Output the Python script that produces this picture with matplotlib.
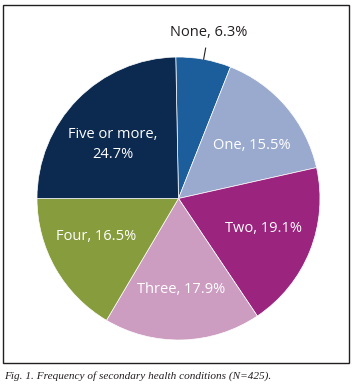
import matplotlib.pyplot as plt
import numpy as np

plt.rcParams['font.family'] = 'Open Sans'

categories = ['None', 'One', 'Two', 'Three', 'Four', 'Five or more']
percent = [6.3, 15.5, 19.1, 17.9, 16.5, 24.7]
colors = ['#1b5e9b', '#9aaacf', '#9a247e', '#cc9dc0', '#879c3d', '#0c2a4f']
caption = 'Fig. 1. Frequency of secondary health conditions (N=425).'

fig = plt.figure(figsize=(3.57, 3.90), dpi=100)

# frame around the chart
frame = plt.Rectangle((0.0084, 0.069), 0.9694, 0.918, transform=fig.transFigure,
                      fill=False, edgecolor='#231f20', linewidth=1.0)
fig.patches.append(frame)

ax = fig.add_axes([0.1036, 0.1282, 0.7927, 0.7256])
start = 91.1
wedges, _ = ax.pie(percent, colors=colors, startangle=start, counterclock=False,
                   radius=1.0, wedgeprops=dict(edgecolor='white', linewidth=0.5))
ax.set_xlim(-1, 1)
ax.set_ylim(-1, 1)
ax.set_aspect('auto')
ax.axis('off')

# small angle shifts so labels sit where the original has them
shift = {'One': -5, 'Two': 2.5, 'Four': -5, 'Five or more': 5}
fs = 10.5
for w, name, p in zip(wedges, categories, percent):
    mid = np.deg2rad((w.theta1 + w.theta2) / 2 + shift.get(name, 0))
    if name == 'None':
        ax.plot([1.0 * np.cos(mid), 1.08 * np.cos(mid)],
                [1.0 * np.sin(mid), 1.08 * np.sin(mid)],
                color='#231f20', linewidth=0.8, clip_on=False)
        ax.text(1.19 * np.cos(mid), 1.19 * np.sin(mid), f'{name}, {p}%',
                ha='center', va='center', fontsize=fs, color='#231f20')
    elif name == 'Five or more':
        ax.text(0.6 * np.cos(mid), 0.6 * np.sin(mid), f'{name},\n{p}%',
                ha='center', va='center', fontsize=fs, color='white',
                linespacing=1.4)
    else:
        ax.text(0.64 * np.cos(mid), 0.64 * np.sin(mid), f'{name}, {p}%',
                ha='center', va='center', fontsize=fs, color='white')

fig.text(0.012, 0.036, caption, family='Liberation Serif', style='italic',
         fontsize=8.1, color='#231f20', ha='left', va='center')

plt.savefig('out.png', dpi=100)
